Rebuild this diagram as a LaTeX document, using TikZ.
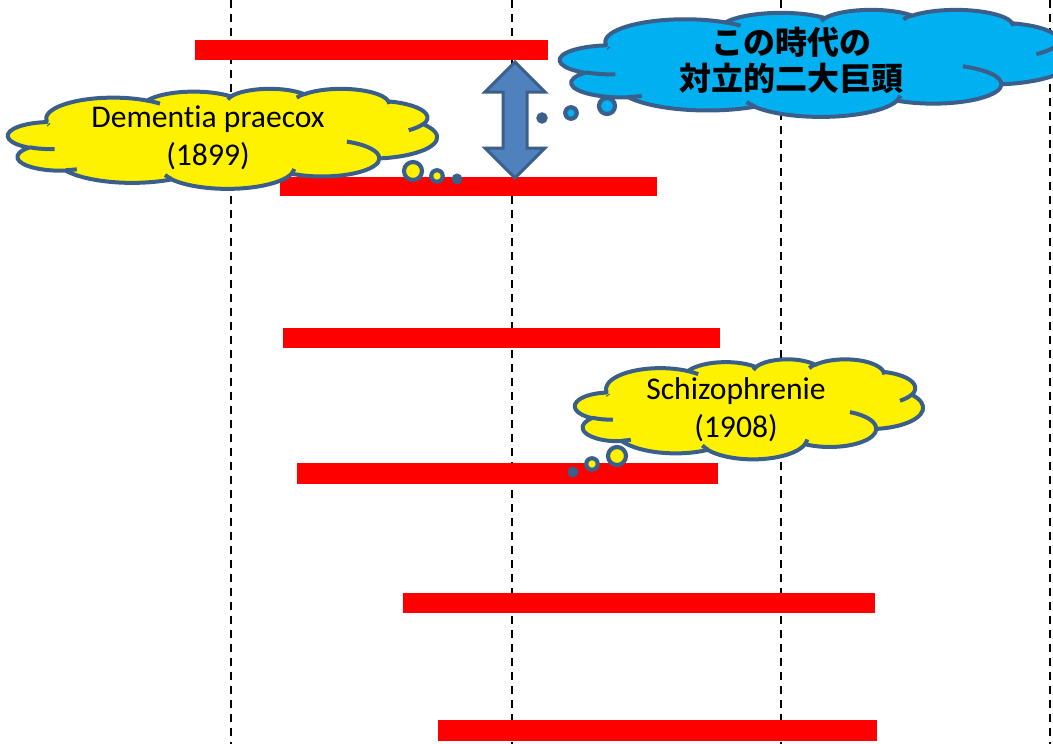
\documentclass[tikz,border=0pt]{standalone}
\usepackage{fontspec}
\setmainfont{Carlito}[Ligatures=NoCommon]
\newfontfamily\cjk{Noto Sans CJK JP}
\definecolor{edge}{HTML}{3A5F8B}
\definecolor{cyanfill}{HTML}{00B0F0}
\definecolor{arrowfill}{HTML}{4F81BD}
\tikzset{
  bar/.style={fill=red, draw=none},
  gridline/.style={draw=black, line width=1.3pt, dash pattern=on 8pt off 6pt},
  cloudedge/.style={draw=edge, line width=4pt, line join=round},
  cloudtext/.style={align=center, font=\fontsize{31.6}{38}\selectfont},
  cjktext/.style={align=center, font=\cjk\bfseries\fontsize{32}{36}\selectfont},
  bubble/.style={circle, draw=edge, line width=4.2pt, inner sep=0pt},
}
% PowerPoint-like cloud outline (path space 432 x 432): #1 name, #2 cx, #3 cy, #4 W, #5 H, #6 fill
\newcommand\pptcloud[6]{%
  \pgfmathsetmacro\cldsx{#4/432}%
  \pgfmathsetmacro\cldsy{#5/432}%
  \begin{scope}[shift={(#2-#4/2,#3-#5/2)}, x=\cldsx pt, y=-\cldsy pt]
    \coordinate (#1) at (216,216);
    \filldraw[cloudedge, fill=#6] (39.00,143.70)
      \foreach \wr/\hr/\st/\sw [evaluate=\st as \ta using {atan2(\wr*sin(\st),\hr*cos(\st))},
                                evaluate=\sw as \tb using {\ta+mod(atan2(\wr*sin(\st+\sw),\hr*cos(\st+\sw))-\ta+720,360)}]
      in {67.53/91.90/-190.48748/123.78053, 53.33/72.67/-144.10238/89.94523,
          43.65/59.45/-145.80792/99.72302, 48.57/65.95/-130.98607/117.24173,
          53.33/72.73/-78.70888/109.02692, 67.75/92.20/-46.26725/130.269,
          57.85/78.67/0.62502/114.03333, 67.52/92.15/22.4516/115.17255,
          77.20/105.43/66.24263/75.71102, 43.60/59.18/-274.94208/146.73557,
          43.45/59.45/-246.8285/152.5195}
      { arc[start angle=\ta, end angle=\tb, x radius=\wr, y radius=\hr] } -- cycle;
    \foreach \mx/\my/\wr/\hr/\st/\sw [evaluate=\st as \ta using {atan2(\wr*sin(\st),\hr*cos(\st))},
                                      evaluate=\sw as \tb using {\ta+mod(atan2(\wr*sin(\st+\sw),\hr*cos(\st+\sw))-\ta+720,360)}]
      in {46.93/261.77/43.45/59.45/86.742/26.4295, 69.28/348.99/43.60/59.18/73.61047/11.44747,
          164.78/390.90/67.52/92.15/137.62415/14.0811, 288.27/347.51/67.52/92.15/6.45327/15.99835,
          341.29/229.54/57.85/78.67/-70.29235/70.91737, 417.98/153.54/53.33/72.73/30.31803/27.7515,
          383.24/54.26/48.57/65.95/-13.74433/14.8589, 290.78/39.52/48.57/65.95/-149.18145/18.19537,
          221.41/47.20/43.65/59.45/-163.49427/17.68635, 140.00/51.92/67.53/91.90/-66.70695/12.31935,
          41.27/157.89/67.53/91.90/156.6285/2.9076}
      { \draw[cloudedge] (\mx,\my) arc[start angle=\ta, end angle=\tb, x radius=\wr, y radius=\hr]; }
  \end{scope}}
\begin{document}
\begin{tikzpicture}[x=1pt,y=-1pt]
\useasboundingbox (0,0) rectangle (1053,744);
\clip (0,0) rectangle (1053,744);
% dashed guide lines
\foreach \gx in {231,512,781,1050} \draw[gridline] (\gx,0) -- (\gx,744);
% bars
\fill[bar] (195,40) rectangle (548,60);
\fill[bar] (280,177) rectangle (657,196);
\fill[bar] (283,328) rectangle (720,348);
\fill[bar] (297,463) rectangle (718,484);
\fill[bar] (403,593) rectangle (875,613);
\fill[bar] (438,720) rectangle (877,741);
% double arrow
\filldraw[fill=arrowfill, draw=edge, line width=3pt, line join=miter]
  (515,62) -- (545,92) -- (527,92) -- (527,148) -- (545,148) -- (515,178)
  -- (485,148) -- (503,148) -- (503,92) -- (485,92) -- cycle;
% cloud 1
\pptcloud{c1}{222.5}{138.5}{429}{100}{yellow}
\node[cloudtext] (t1) at (208,138) {Dementia praecox\\(1899)};
\node[bubble, fill=yellow, minimum size=18pt] (b1a) at (413,171) {};
\node[bubble, fill=yellow, minimum size=11.5pt] (b1b) at (437,176) {};
\node[bubble, fill=edge, minimum size=6.5pt] (b1c) at (457,179) {};
% cloud 2 (blue)
\pptcloud{c2}{815}{63}{510}{107}{cyanfill}
\node[cjktext] (t2) at (791,60) {この時代の\\対立的二大巨頭};
\node[bubble, fill=cyanfill, minimum size=16pt] (b2a) at (607,106) {};
\node[bubble, fill=cyanfill, minimum size=11.5pt] (b2b) at (571,113) {};
\node[bubble, fill=edge, minimum size=7pt] (b2c) at (542,118) {};
% cloud 3
\pptcloud{c3}{749}{409}{348}{100}{yellow}
\node[cloudtext] (t3) at (736,410) {Schizophrenie\\(1908)};
\node[bubble, fill=yellow, minimum size=18pt] (b3a) at (617,456) {};
\node[bubble, fill=yellow, minimum size=11.5pt] (b3b) at (592,464) {};
\node[bubble, fill=edge, minimum size=6.5pt] (b3c) at (573,472) {};
\end{tikzpicture}
\end{document}
